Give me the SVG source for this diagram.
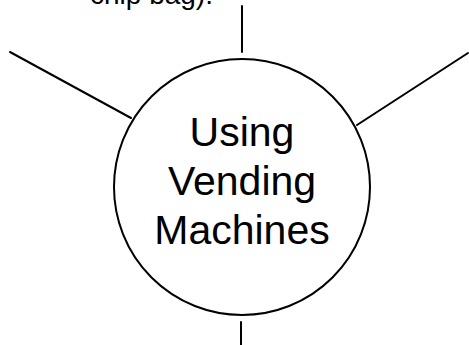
<svg xmlns="http://www.w3.org/2000/svg" width="469" height="345" viewBox="0 0 469 345">
<style>
.ln{stroke:#000;stroke-width:2;fill:none;stroke-linecap:round}
.t{font-family:"Liberation Sans",Arial,sans-serif;fill:#000}
</style>
<rect width="469" height="345" fill="#fff"/>
<text class="t" x="90" y="4" font-size="28">chip bag).</text>
<g id="connectors">
<line class="ln" x1="242" y1="6" x2="242" y2="52"/>
<line class="ln" x1="10" y1="52" x2="131" y2="118"/>
<line class="ln" x1="468" y1="53" x2="357" y2="125"/>
<line class="ln" x1="241" y1="322" x2="241" y2="345"/>
</g>
<g id="center">
<circle class="ln" cx="242" cy="187" r="128"/>
<text class="t" x="242" y="146" font-size="41" text-anchor="middle">Using</text>
<text class="t" x="242" y="195" font-size="41" text-anchor="middle">Vending</text>
<text class="t" x="242" y="244" font-size="41" text-anchor="middle">Machines</text>
</g>
</svg>
